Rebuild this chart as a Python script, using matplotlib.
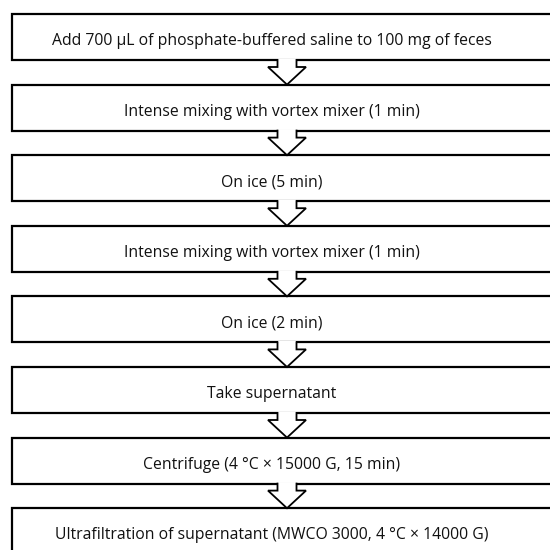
import matplotlib
matplotlib.use('Agg')
import matplotlib.pyplot as plt
from matplotlib.patches import Rectangle, Polygon

# 流程步骤
steps = [
    'Add 700 µL of phosphate-buffered saline to 100 mg of feces',
    'Intense mixing with vortex mixer (1 min)',
    'On ice (5 min)',
    'Intense mixing with vortex mixer (1 min)',
    'On ice (2 min)',
    'Take supernatant',
    'Centrifuge (4 °C × 15000 G, 15 min)',
    'Ultrafiltration of supernatant (MWCO 3000, 4 °C × 14000 G)',
]

plt.rcParams['font.family'] = ['Open Sans', 'DejaVu Sans']

fig = plt.figure(figsize=(5.5, 5.5), dpi=100)
ax = fig.add_axes([0, 0, 1, 1])
ax.set_xlim(0, 550)
ax.set_ylim(550, 0)
ax.axis('off')

top0, pitch, box_h = 14, 70.6, 46
left, right = 12, 565
text_x, arrow_x = 272, 287

for i, label in enumerate(steps):
    y = top0 + i * pitch
    ax.add_patch(Rectangle((left, y), right - left, box_h, facecolor='white',
                           edgecolor='black', lw=1.6, zorder=1))
    ax.text(text_x, y + 31, label, ha='center', va='baseline',
            fontsize=11.3, color='#111111', zorder=3)

    if i < len(steps) - 1:
        yb = y + box_h
        yt = top0 + (i + 1) * pitch
        s, h = 9.5, 19
        pts = [(arrow_x - s, yb), (arrow_x - s, yb + 7), (arrow_x - h, yb + 7),
               (arrow_x, yt), (arrow_x + h, yb + 7), (arrow_x + s, yb + 7),
               (arrow_x + s, yb)]
        # 白色填充，盖住框线
        ax.add_patch(Polygon([(arrow_x - s + 0.6, yb - 1.5)] + pts[1:-1] +
                             [(arrow_x + s - 0.6, yb - 1.5)], closed=True,
                             facecolor='white', edgecolor='none', zorder=2))
        xs, ys = zip(*pts)
        ax.plot(xs, ys, color='black', lw=1.3, solid_joinstyle='miter', zorder=2.5)

fig.savefig('out.png', dpi=100)
